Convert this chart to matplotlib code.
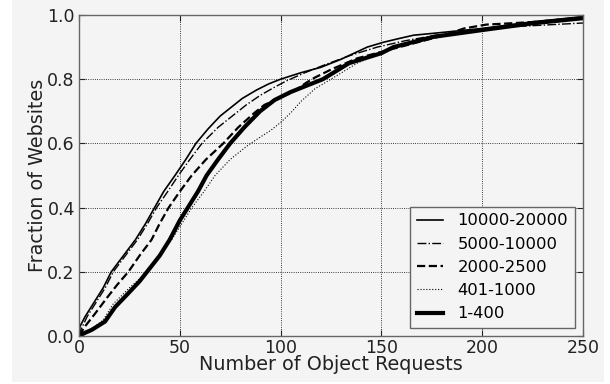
import matplotlib
matplotlib.use("Agg")
import matplotlib.pyplot as plt
from matplotlib.patches import Rectangle

# ── CDF points (object requests, fraction of websites) per size group ──
LABELS = ["10000-20000", "5000-10000", "2000-2500", "401-1000", "1-400"]

x_10000 = [0, 0.5, 3, 7, 12, 16, 22, 28, 33, 37.5, 42, 47.6, 53, 58, 64, 70, 76, 81, 88, 94, 100,
           110, 120, 130, 143, 151, 159, 166, 176, 184, 200, 212, 225, 238, 250]
y_10000 = [0, 0.03, 0.06, 0.10, 0.15, 0.20, 0.25, 0.30, 0.35, 0.40, 0.45, 0.50, 0.55, 0.60, 0.645,
           0.685, 0.715, 0.74, 0.766, 0.785, 0.80, 0.82, 0.837, 0.862, 0.90, 0.915, 0.927, 0.937,
           0.943, 0.948, 0.958, 0.968, 0.979, 0.987, 0.995]

x_5000 = [0, 1, 4, 8, 13, 17, 23, 29, 34, 38.5, 44, 49.3, 55, 61, 69, 78, 83, 90, 97, 103, 112,
          122, 135, 148, 162, 178, 195, 210, 220, 235, 250]
y_5000 = [0, 0.02, 0.06, 0.10, 0.15, 0.20, 0.25, 0.30, 0.35, 0.40, 0.45, 0.50, 0.55, 0.60, 0.65,
          0.695, 0.72, 0.75, 0.775, 0.795, 0.82, 0.845, 0.875, 0.90, 0.92, 0.938, 0.952, 0.962,
          0.965, 0.970, 0.975]

x_2000 = [0, 3, 8, 14, 19, 24.5, 30, 36, 40, 44.5, 50, 55.9, 63, 71.6, 79, 87, 92, 99, 106, 113,
          117, 125, 138, 150, 165, 180, 191, 202, 211, 225, 238, 250]
y_2000 = [0, 0.03, 0.07, 0.12, 0.16, 0.20, 0.25, 0.30, 0.35, 0.40, 0.45, 0.50, 0.55, 0.60, 0.65,
          0.695, 0.72, 0.74, 0.76, 0.79, 0.805, 0.83, 0.865, 0.885, 0.91, 0.935, 0.958, 0.970,
          0.973, 0.978, 0.985, 0.99]

x_401 = [0, 3, 8, 12, 17, 25, 34, 40, 46, 51, 56, 62, 67.5, 75, 84, 90, 95, 100, 105, 110, 117,
         125, 138, 157, 176, 200, 225, 250]
y_401 = [0, 0.01, 0.03, 0.05, 0.10, 0.15, 0.20, 0.25, 0.30, 0.35, 0.40, 0.45, 0.50, 0.55, 0.595,
         0.62, 0.64, 0.665, 0.695, 0.73, 0.77, 0.80, 0.85, 0.90, 0.932, 0.953, 0.974, 0.99]

x_1 = [0, 3, 6.3, 12.9, 17.9, 24, 30, 35, 40, 45, 50, 54, 59, 63.3, 69, 75, 82, 89.8, 97, 105,
       113, 121, 134, 150, 156, 176, 200, 225, 250]
y_1 = [0, 0.01, 0.019, 0.045, 0.09, 0.13, 0.17, 0.21, 0.25, 0.30, 0.36, 0.40, 0.45, 0.50, 0.55,
       0.60, 0.65, 0.70, 0.735, 0.76, 0.78, 0.80, 0.85, 0.881, 0.90, 0.932, 0.953, 0.974, 0.99]

BG = "#f4f4f4"

fig = plt.figure(figsize=(6.10, 3.84), dpi=100, facecolor="white")
fig.patches.append(Rectangle((0.0197, 0.005), 0.9705, 0.995, transform=fig.transFigure,
                             facecolor=BG, edgecolor="none", zorder=-10))

ax = fig.add_axes([0.1295, 0.125, 0.8262, 0.836])
ax.set_facecolor(BG)

ax.plot(x_10000, y_10000, color="black", linestyle="-", linewidth=1.2, label=LABELS[0])
ax.plot(x_5000, y_5000, color="black", linestyle="-.", linewidth=1.0, label=LABELS[1])
ax.plot(x_2000, y_2000, color="black", linestyle="--", linewidth=1.6, label=LABELS[2])
ax.plot(x_401, y_401, color="black", linestyle=":", linewidth=0.8, label=LABELS[3])
ax.plot(x_1, y_1, color="black", linestyle="-", linewidth=3.0, label=LABELS[4])

ax.set_xlim(0, 250)
ax.set_ylim(0, 1.0)
ax.set_xticks([0, 50, 100, 150, 200, 250])
ax.set_yticks([0.0, 0.2, 0.4, 0.6, 0.8, 1.0])
ax.set_yticklabels(["0.0", "0.2", "0.4", "0.6", "0.8", "1.0"])
ax.grid(True, color="black", linestyle=":", linewidth=0.6)
ax.tick_params(direction="in", length=4, top=True, right=True, labelsize=12.5,
               colors="#222222", pad=3)
ax.tick_params(axis="x", pad=2)
for sp in ax.spines.values():
    sp.set_color("#666666")
    sp.set_linewidth(1.0)

ax.set_xlabel("Number of Object Requests", fontsize=13.8, labelpad=-1, color="#222222")
ax.set_ylabel("Fraction of Websites", fontsize=13.8, labelpad=0, color="#222222")

leg = ax.legend(loc="lower right", fontsize=11.8, frameon=True, fancybox=False,
                borderaxespad=0.5, handlelength=1.6, handletextpad=0.9, labelspacing=0.5,
                borderpad=0.4)
leg.get_frame().set_facecolor(BG)
leg.get_frame().set_edgecolor("#666666")
leg.get_frame().set_linewidth(1.0)
leg.get_frame().set_alpha(1.0)

fig.savefig("out.png", dpi=100, facecolor="white")
